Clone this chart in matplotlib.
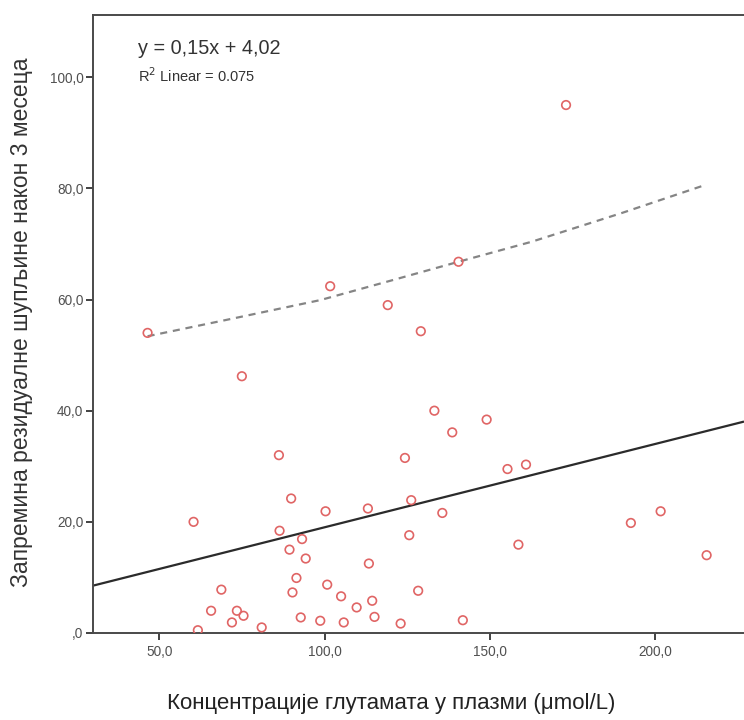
import matplotlib
matplotlib.use("Agg")
import matplotlib.pyplot as plt
import numpy as np
from matplotlib.ticker import FuncFormatter

plt.rcParams['font.family'] = ['Liberation Sans', 'DejaVu Sans']

# Plasma glutamate concentration (µmol/L) and residual cavity volume after 3 months
glutamate = [46.5, 75.0, 101.7, 140.5, 119.1, 129.1, 133.2, 138.6, 149.0, 173.0,
             86.2, 89.9, 60.4, 86.4, 93.2, 89.4, 94.3, 91.5, 68.8, 90.3,
             65.7, 73.5, 75.5, 72.0, 92.8, 61.7, 81.0, 98.7, 124.3, 155.3,
             160.9, 100.3, 113.1, 126.2, 135.6, 125.6, 158.6, 113.4, 100.8, 105.0,
             114.4, 128.3, 109.7, 115.1, 105.8, 123.0, 141.8, 192.6, 201.6, 215.5]
volume = [54.0, 46.2, 62.4, 66.8, 59.0, 54.3, 40.0, 36.1, 38.4, 95.0,
          32.0, 24.2, 20.0, 18.4, 16.9, 15.0, 13.4, 9.9, 7.8, 7.3,
          4.0, 4.0, 3.1, 1.9, 2.8, 0.5, 1.0, 2.2, 31.5, 29.5,
          30.3, 21.9, 22.4, 23.9, 21.6, 17.6, 15.9, 12.5, 8.7, 6.6,
          5.8, 7.6, 4.6, 2.9, 1.9, 1.7, 2.3, 19.8, 21.9, 14.0]

# Fitted linear regression
slope = 0.15
intercept = 4.02
r_squared = 0.075

# Upper prediction band
band_x = [46.5, 70.0, 98.7, 120.0, 140.5, 162.6, 190.0, 214.0]
band_y = [53.4, 56.3, 59.9, 63.4, 66.8, 70.4, 75.6, 80.4]

x_ticks = [50, 100, 150, 200]
y_ticks = [0, 20, 40, 60, 80, 100]
x_lim = (30.0, 226.8)
y_lim = (0.0, 111.2)

fig = plt.figure(figsize=(7.44, 7.20), dpi=100)
ax = fig.add_axes([93 / 744, 87 / 720, 651 / 744, 618 / 720])

ax.set_xlim(*x_lim)
ax.set_ylim(*y_lim)

# Regression line across the full plotting range
lx = np.array(x_lim)
ax.plot(lx, slope * lx + intercept, color='#2b2b2b', lw=1.6, zorder=2,
        solid_capstyle='butt')

# Dashed prediction band
ax.plot(band_x, band_y, color='#858585', lw=1.6, ls=(0, (3.2, 2.6)), zorder=2)

# Data points as open circles
ax.scatter(glutamate, volume, s=38, facecolors='none', edgecolors='#e06565',
           linewidths=1.2, zorder=3)

# Axis styling
for side in ('left', 'bottom', 'top'):
    ax.spines[side].set_color('#4a4a4a')
    ax.spines[side].set_linewidth(1.4)
ax.spines['right'].set_visible(False)

ax.set_xticks(x_ticks)
ax.set_yticks(y_ticks)


def comma_fmt(v, pos):
    s = f"{v:.1f}".replace('.', ',')
    if s.startswith('0,'):
        s = s[1:]
    return s


ax.xaxis.set_major_formatter(FuncFormatter(comma_fmt))
ax.yaxis.set_major_formatter(FuncFormatter(comma_fmt))
ax.tick_params(axis='both', direction='out', length=5, width=1.3,
               colors='#333333', labelsize=9.8, labelcolor='#505050')
ax.tick_params(axis='x', pad=4)
ax.tick_params(axis='y', pad=2)

ax.set_xlabel('Концентрације глутамата у плазми (μmol/L)', fontsize=16,
              color='#222222')
ax.xaxis.set_label_coords(0.458, -0.097)
ax.set_ylabel('Запремина резидуалне шупљине након 3 месеца', fontsize=16.5,
              color='#333333')
ax.yaxis.set_label_coords(-0.092, 0.503)

# Regression annotation
ax.text(0.069, 0.945, 'y = 0,15x + 4,02', transform=ax.transAxes,
        fontsize=14.3, color='#333333', ha='left', va='center')
ax.text(0.069, 0.902, f'R$^2$ Linear = {r_squared}', transform=ax.transAxes,
        fontsize=10.5, color='#333333', ha='left', va='center')

fig.savefig('out.png', dpi=100, facecolor='white')
